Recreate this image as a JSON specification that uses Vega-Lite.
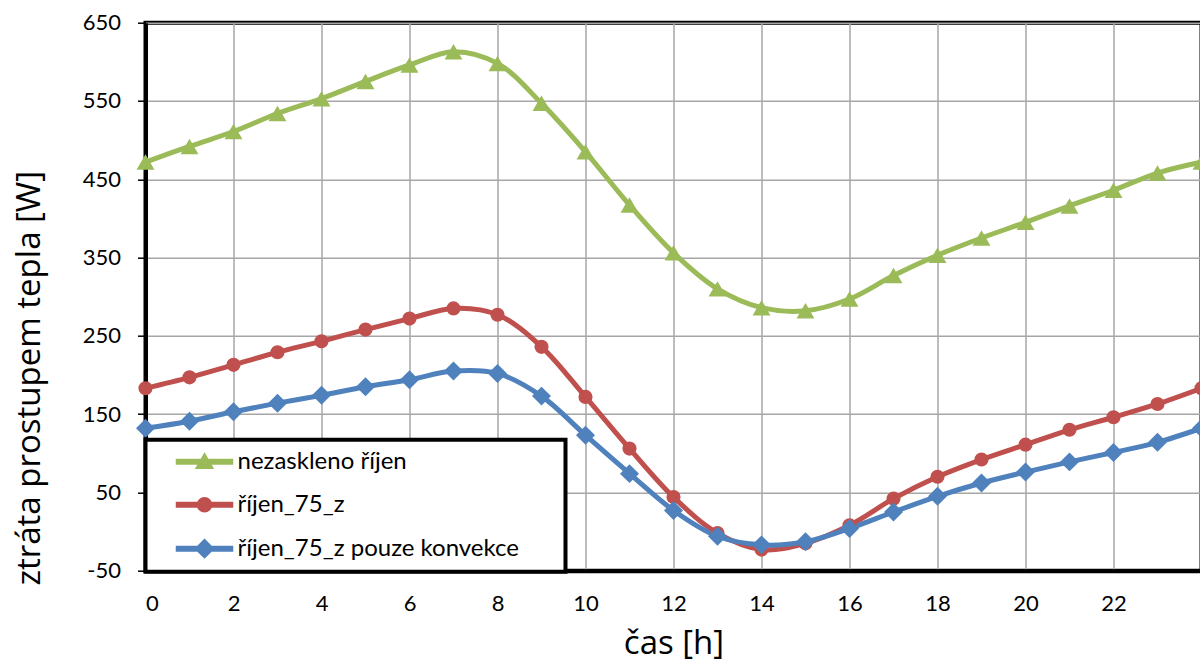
{
  "$schema": "https://vega.github.io/schema/vega-lite/v6.json",
  "autosize": {"type": "none"},
  "width": 1056,
  "height": 548,
  "padding": {"left": 145.5, "top": 22.7, "right": -2, "bottom": 93.3},
  "background": "white",
  "config": {
    "view": {"stroke": "black", "strokeWidth": 4},
    "font": "Lato",
    "axis": {
      "labelFont": "Lato",
      "labelFontSize": 22,
      "labelColor": "black",
      "titleFont": "Open Sans",
      "titleFontWeight": "normal",
      "titleFontSize": 33,
      "titleColor": "black",
      "gridColor": "#a6a6a6",
      "gridWidth": 1.5,
      "gridOpacity": 1,
      "domainColor": "black",
      "domainWidth": 4,
      "tickColor": "black"
    }
  },
  "data": {
    "values": [
      {"h": 0, "series": "nezaskleno říjen", "value": 472},
      {"h": 1, "series": "nezaskleno říjen", "value": 492},
      {"h": 2, "series": "nezaskleno říjen", "value": 511},
      {"h": 3, "series": "nezaskleno říjen", "value": 534},
      {"h": 4, "series": "nezaskleno říjen", "value": 553},
      {"h": 5, "series": "nezaskleno říjen", "value": 575},
      {"h": 6, "series": "nezaskleno říjen", "value": 596},
      {"h": 7, "series": "nezaskleno říjen", "value": 613},
      {"h": 8, "series": "nezaskleno říjen", "value": 598},
      {"h": 9, "series": "nezaskleno říjen", "value": 547},
      {"h": 10, "series": "nezaskleno říjen", "value": 485},
      {"h": 11, "series": "nezaskleno říjen", "value": 417},
      {"h": 12, "series": "nezaskleno říjen", "value": 356},
      {"h": 13, "series": "nezaskleno říjen", "value": 310},
      {"h": 14, "series": "nezaskleno říjen", "value": 286},
      {"h": 15, "series": "nezaskleno říjen", "value": 282},
      {"h": 16, "series": "nezaskleno říjen", "value": 297},
      {"h": 17, "series": "nezaskleno říjen", "value": 327},
      {"h": 18, "series": "nezaskleno říjen", "value": 353},
      {"h": 19, "series": "nezaskleno říjen", "value": 375},
      {"h": 20, "series": "nezaskleno říjen", "value": 395},
      {"h": 21, "series": "nezaskleno říjen", "value": 416},
      {"h": 22, "series": "nezaskleno říjen", "value": 436},
      {"h": 23, "series": "nezaskleno říjen", "value": 458},
      {"h": 24, "series": "nezaskleno říjen", "value": 472},
      {"h": 0, "series": "říjen_75_z", "value": 183},
      {"h": 1, "series": "říjen_75_z", "value": 197},
      {"h": 2, "series": "říjen_75_z", "value": 213},
      {"h": 3, "series": "říjen_75_z", "value": 229},
      {"h": 4, "series": "říjen_75_z", "value": 243},
      {"h": 5, "series": "říjen_75_z", "value": 258},
      {"h": 6, "series": "říjen_75_z", "value": 272},
      {"h": 7, "series": "říjen_75_z", "value": 285},
      {"h": 8, "series": "říjen_75_z", "value": 277},
      {"h": 9, "series": "říjen_75_z", "value": 236},
      {"h": 10, "series": "říjen_75_z", "value": 172},
      {"h": 11, "series": "říjen_75_z", "value": 106},
      {"h": 12, "series": "říjen_75_z", "value": 44},
      {"h": 13, "series": "říjen_75_z", "value": -2},
      {"h": 14, "series": "říjen_75_z", "value": -23},
      {"h": 15, "series": "říjen_75_z", "value": -15},
      {"h": 16, "series": "říjen_75_z", "value": 8},
      {"h": 17, "series": "říjen_75_z", "value": 42},
      {"h": 18, "series": "říjen_75_z", "value": 70},
      {"h": 19, "series": "říjen_75_z", "value": 92},
      {"h": 20, "series": "říjen_75_z", "value": 111},
      {"h": 21, "series": "říjen_75_z", "value": 130},
      {"h": 22, "series": "říjen_75_z", "value": 146},
      {"h": 23, "series": "říjen_75_z", "value": 163},
      {"h": 24, "series": "říjen_75_z", "value": 183},
      {"h": 0, "series": "říjen_75_z pouze konvekce", "value": 132},
      {"h": 1, "series": "říjen_75_z pouze konvekce", "value": 141},
      {"h": 2, "series": "říjen_75_z pouze konvekce", "value": 153},
      {"h": 3, "series": "říjen_75_z pouze konvekce", "value": 164},
      {"h": 4, "series": "říjen_75_z pouze konvekce", "value": 174},
      {"h": 5, "series": "říjen_75_z pouze konvekce", "value": 185},
      {"h": 6, "series": "říjen_75_z pouze konvekce", "value": 194},
      {"h": 7, "series": "říjen_75_z pouze konvekce", "value": 205},
      {"h": 8, "series": "říjen_75_z pouze konvekce", "value": 202},
      {"h": 9, "series": "říjen_75_z pouze konvekce", "value": 173},
      {"h": 10, "series": "říjen_75_z pouze konvekce", "value": 123},
      {"h": 11, "series": "říjen_75_z pouze konvekce", "value": 74},
      {"h": 12, "series": "říjen_75_z pouze konvekce", "value": 27},
      {"h": 13, "series": "říjen_75_z pouze konvekce", "value": -6},
      {"h": 14, "series": "říjen_75_z pouze konvekce", "value": -17},
      {"h": 15, "series": "říjen_75_z pouze konvekce", "value": -13},
      {"h": 16, "series": "říjen_75_z pouze konvekce", "value": 4},
      {"h": 17, "series": "říjen_75_z pouze konvekce", "value": 25},
      {"h": 18, "series": "říjen_75_z pouze konvekce", "value": 45},
      {"h": 19, "series": "říjen_75_z pouze konvekce", "value": 62},
      {"h": 20, "series": "říjen_75_z pouze konvekce", "value": 76},
      {"h": 21, "series": "říjen_75_z pouze konvekce", "value": 89},
      {"h": 22, "series": "říjen_75_z pouze konvekce", "value": 101},
      {"h": 23, "series": "říjen_75_z pouze konvekce", "value": 114},
      {"h": 24, "series": "říjen_75_z pouze konvekce", "value": 132}
    ]
  },
  "layer": [
    {
      "mark": {"type": "point", "filled": true, "opacity": 0, "size": 196},
      "encoding": {
        "x": {"field": "h", "type": "quantitative"},
        "y": {"field": "value", "type": "quantitative"},
        "color": {
          "field": "series", "type": "nominal",
          "scale": {
            "domain": ["nezaskleno říjen", "říjen_75_z", "říjen_75_z pouze konvekce"],
            "range": ["#9bbb59", "#c0504d", "#4f81bd"]
          },
          "legend": {
            "title": null,
            "titleFontSize": 0,
            "titlePadding": 0,
            "orient": "none",
            "legendX": 0,
            "legendY": 417,
            "fillColor": "white",
            "strokeColor": "black",
            "padding": 10,
            "rowPadding": 19,
            "symbolSize": 196,
            "symbolOffset": 37,
            "labelOffset": 21,
            "labelFont": "Lato",
            "labelFontSize": 24,
            "labelColor": "black",
            "labelLimit": 500,
            "labelExpr": "datum.label + '\u2800\u2800'",
            "encode": {
              "symbols": {"update": {"opacity": {"value": 1}}},
              "legend": {"update": {"strokeWidth": {"value": 4}}}
            }
          }
        },
        "shape": {
          "field": "series", "type": "nominal",
          "scale": {
            "domain": ["nezaskleno říjen", "říjen_75_z", "říjen_75_z pouze konvekce"],
            "range": [
              "M-4,-0.33H4V0.33H-4ZM0,-1.15L1.2,0.95L-1.2,0.95Z",
              "M-4,-0.33H4V0.33H-4ZM-1,0A1,1 0 1,1 1,0A1,1 0 1,1 -1,0Z",
              "M-4,-0.33H4V0.33H-4ZM0,-1.3L1.3,0L0,1.3L-1.3,0Z"
            ]
          },
          "legend": {
            "title": null,
            "titleFontSize": 0,
            "titlePadding": 0,
            "orient": "none",
            "legendX": 0,
            "legendY": 417,
            "fillColor": "white",
            "strokeColor": "black",
            "padding": 10,
            "rowPadding": 19,
            "symbolSize": 196,
            "symbolOffset": 37,
            "labelOffset": 21,
            "labelFont": "Lato",
            "labelFontSize": 24,
            "labelColor": "black",
            "labelLimit": 500,
            "labelExpr": "datum.label + '\u2800\u2800'",
            "encode": {
              "symbols": {"update": {"opacity": {"value": 1}}},
              "legend": {"update": {"strokeWidth": {"value": 4}}}
            }
          }
        }
      }
    },
    {
      "mark": {"type": "line", "strokeWidth": 5, "interpolate": "catmull-rom"},
      "encoding": {
        "x": {
          "field": "h", "type": "quantitative",
          "scale": {"domain": [0, 24], "nice": false, "zero": false},
          "axis": {
            "title": "čas [h]",
            "values": [0, 2, 4, 6, 8, 10, 12, 14, 16, 18, 20, 22, 24],
            "labelExpr": "datum.value == 24 ? '' : datum.label",
            "ticks": false,
            "labelPadding": 23,
            "titleY": 83,
            "titleBaseline": "alphabetic",
            "titleAnchor": "middle"
          }
        },
        "y": {
          "field": "value", "type": "quantitative",
          "scale": {"domain": [-50, 650], "nice": false, "zero": false},
          "axis": {
            "title": "ztráta prostupem tepla [W]",
            "values": [-50, 50, 150, 250, 350, 450, 550, 650],
            "labelExpr": "replace(datum.label, '\u2212', '-')",
            "tickSize": 8,
            "tickWidth": 1.5,
            "labelPadding": 17,
            "titleAngle": 270,
            "titleX": -106,
            "titleY": 355,
            "titleAlign": "center",
            "titleBaseline": "alphabetic"
          }
        },
        "color": {"field": "series", "type": "nominal", "legend": null}
      }
    },
    {
      "transform": [{"filter": "datum.series == 'nezaskleno říjen'"}],
      "mark": {"type": "point", "shape": "triangle-up", "filled": true, "opacity": 1, "size": 320},
      "encoding": {
        "x": {"field": "h", "type": "quantitative"},
        "y": {"field": "value", "type": "quantitative"},
        "color": {"field": "series", "type": "nominal", "legend": null}
      }
    },
    {
      "transform": [{"filter": "datum.series == 'říjen_75_z'"}],
      "mark": {"type": "point", "shape": "circle", "filled": true, "opacity": 1, "size": 200},
      "encoding": {
        "x": {"field": "h", "type": "quantitative"},
        "y": {"field": "value", "type": "quantitative"},
        "color": {"field": "series", "type": "nominal", "legend": null}
      }
    },
    {
      "transform": [{"filter": "datum.series == 'říjen_75_z pouze konvekce'"}],
      "mark": {"type": "point", "shape": "diamond", "filled": true, "opacity": 1, "size": 360},
      "encoding": {
        "x": {"field": "h", "type": "quantitative"},
        "y": {"field": "value", "type": "quantitative"},
        "color": {"field": "series", "type": "nominal", "legend": null}
      }
    }
  ]
}
